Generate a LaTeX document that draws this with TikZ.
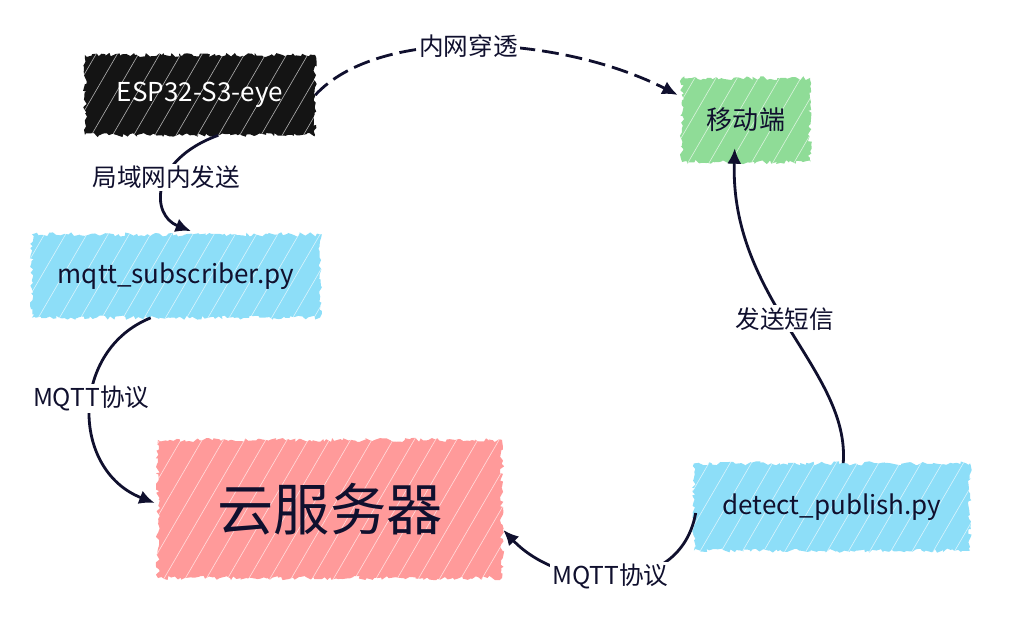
\documentclass[tikz,border=0pt]{standalone}
\usepackage{fontspec}
\setmainfont{Noto Sans CJK SC}
\usepackage{xcolor}
\usetikzlibrary{
	calc,               %计算
	arrows.meta,        %箭头
	decorations.pathmorphing   %手绘边缘
}
\definecolor{ink}{HTML}{10102E}
\definecolor{espblack}{HTML}{141414}
\definecolor{mobgreen}{HTML}{8FDC97}
\definecolor{pyblue}{HTML}{8DDEF8}
\definecolor{cloudred}{HTML}{FF9A9A}
\tikzset{
	every picture/.style={
		>={Latex[length=11pt,width=10pt]},
		x=0.025cm,y=-0.025cm
	},
	%手绘风格的方框,白色斜线模拟填充
	box/.style={rectangle,
		fill=#1,
		text=ink,
		font=\fontsize{18.5}{22}\selectfont,
		decorate,
		decoration={random steps,segment length=2pt,amplitude=1.5pt},
		path picture={
			\foreach \i in {0,...,24}
			\draw[white,line width=0.45pt,opacity=0.65]
			([xshift=\i*0.53cm-3cm]path picture bounding box.south west) -- ++(2.5cm,4.3cm);
		}},
	link/.style={->,draw=ink,line width=2pt},
	lbl/.style={fill=white,inner sep=1.5pt,text=ink,font=\fontsize{17.5}{20}\selectfont}
}
\begin{document}
\begin{tikzpicture}
\useasboundingbox (0,0) rectangle (1009,629);
%各个方框
\node[box=espblack,text=white,minimum width=5.75cm,minimum height=2cm] (esp) at (200,95) {ESP32-S3-eye};
\node[box=mobgreen,minimum width=3.2cm,minimum height=2.1cm] (mobile) at (746,120) {移动端};
\node[box=pyblue,minimum width=7.2cm,minimum height=2.08cm] (sub) at (176,276) {mqtt\_subscriber.py};
\node[box=cloudred,minimum width=8.6cm,minimum height=3.45cm,font=\fontsize{40}{44}\selectfont] (cloud) at (330,509) {云服务器};
\node[box=pyblue,minimum width=6.9cm,minimum height=2.18cm] (detect) at (832,507) {detect\_publish.py};
%连线
\draw[link,dash pattern=on 12pt off 5pt] (esp.east) .. controls (380,25) and (560,35) .. node[lbl,pos=0.48]{内网穿透} ([shift={(-4,-25)}]mobile.west);
\draw[link] ([xshift=13]esp.south) .. controls (150,160) and (150,215) .. node[lbl,pos=0.42]{局域网内发送} ([shift={(15,-3)}]sub.north);
\draw[link] ([xshift=-18]sub.south) .. controls (70,350) and (70,470) .. node[lbl,pos=0.45]{MQTT协议} ([shift={(-3,-6)}]cloud.west);
\draw[link] ([shift={(2,6)}]detect.west) .. controls (680,600) and (560,590) .. node[lbl,pos=0.52]{MQTT协议} ([shift={(1,21)}]cloud.east);
\draw[link] ([xshift=8]detect.north) .. controls (850,370) and (730,300) .. node[lbl,pos=0.53]{发送短信} ([xshift=-8,yshift=10]mobile.south);
\end{tikzpicture}
\end{document}
